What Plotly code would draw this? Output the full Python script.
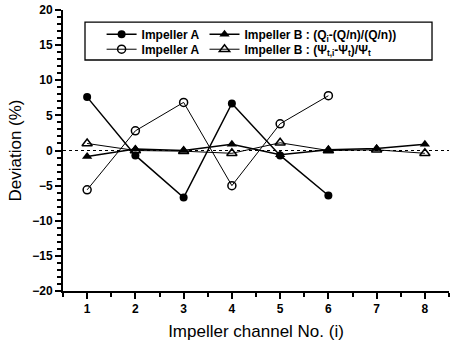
import plotly.graph_objects as go

channels_a = [1, 2, 3, 4, 5, 6]
channels_b = [1, 2, 3, 4, 5, 6, 7, 8]

flow_a = [7.6, -0.7, -6.7, 6.7, -0.7, -6.4]
flow_b = [-0.85, 0.2, 0.0, 0.9, -0.6, 0.1, 0.3, 0.9]
head_a = [-5.6, 2.8, 6.85, -5.0, 3.8, 7.8]
head_b = [1.0, 0.0, -0.1, -0.4, 1.1, 0.0, 0.1, -0.4]

x_ticks = [1, 2, 3, 4, 5, 6, 7, 8]
y_ticks = [-20, -15, -10, -5, 0, 5, 10, 15, 20]

name_a = "Impeller A"
name_b_flow = "Impeller B : (Q<sub>i</sub>-(Q/n)/(Q/n))"
name_b_head = "Impeller B : (Ψ<sub>t,i</sub>-Ψ<sub>t</sub>)/Ψ<sub>t</sub>"

FONT = "Arial, Liberation Sans, sans-serif"
BLACK = "black"

x_step = x_ticks[1] - x_ticks[0]
y_step = y_ticks[1] - y_ticks[0]
x_range = [x_ticks[0] - x_step / 2, x_ticks[-1] + x_step / 2]
y_range = [y_ticks[0], y_ticks[-1]]

fig = go.Figure()

fig.add_trace(go.Scatter(
    x=channels_a, y=flow_a, name=name_a, mode="lines+markers",
    line=dict(color=BLACK, width=1.5),
    marker=dict(symbol="circle", size=8, color=BLACK),
    legend="legend"))
fig.add_trace(go.Scatter(
    x=channels_b, y=flow_b, name=name_b_flow, mode="lines+markers",
    line=dict(color=BLACK, width=1.5),
    marker=dict(symbol="triangle-up", size=9, color=BLACK),
    legend="legend"))
fig.add_trace(go.Scatter(
    x=channels_a, y=head_a, name=name_a, mode="lines+markers",
    line=dict(color=BLACK, width=1),
    marker=dict(symbol="circle-open", size=8, color=BLACK, line=dict(width=1.5)),
    legend="legend2"))
fig.add_trace(go.Scatter(
    x=channels_b, y=head_b, name=name_b_head, mode="lines+markers",
    line=dict(color=BLACK, width=1),
    marker=dict(symbol="triangle-up-open", size=9, color=BLACK, line=dict(width=1.5)),
    legend="legend2"))

# dotted zero reference line
fig.add_shape(type="line", xref="paper", yref="y", x0=0, x1=1, y0=0, y1=0,
              line=dict(color=BLACK, width=1.2, dash="dot"), layer="below")

# legend frame
fig.add_shape(type="rect", xref="paper", yref="paper",
              x0=0.057, x1=0.956, y0=0.822, y1=0.957,
              line=dict(color=BLACK, width=1.3), fillcolor="rgba(0,0,0,0)")

legend_common = dict(orientation="h", xanchor="left", yanchor="top",
                     bgcolor="rgba(0,0,0,0)", borderwidth=0,
                     font=dict(family=FONT, size=12, color=BLACK, weight="bold"),
                     itemwidth=30, tracegroupgap=0)

axis_common = dict(showline=True, linecolor=BLACK, linewidth=1.8,
                   showgrid=False, zeroline=False, tickcolor=BLACK,
                   tickwidth=1.8, ticklen=6)

x_minor = dict(tickmode="linear", dtick=x_step / 2, tick0=x_range[0], ticklen=4,
               tickwidth=1.5, tickcolor=BLACK, showgrid=False)
y_minor = dict(tickmode="linear", dtick=1, tick0=0, ticklen=4,
               tickwidth=1.5, tickcolor=BLACK, showgrid=False)

fig.update_layout(
    width=450, height=345,
    margin=dict(l=63, r=1, t=10, b=54),
    paper_bgcolor="white", plot_bgcolor="white",
    font=dict(family=FONT, color=BLACK),
    showlegend=True,
    legend=dict(x=0.1, y=0.965, **legend_common),
    legend2=dict(x=0.1, y=0.912, **legend_common),
    xaxis=dict(
        range=x_range, tickmode="linear", tick0=x_ticks[0], dtick=x_step,
        ticks="outside", minor=dict(ticks="outside", **x_minor),
        tickfont=dict(family=FONT, size=12, color=BLACK, weight="bold"),
        title=dict(text="Impeller channel No. (i)", font=dict(family=FONT, size=17, color=BLACK), standoff=10),
        **axis_common,
    ),
    yaxis=dict(
        range=y_range, tickmode="linear", tick0=y_ticks[0], dtick=y_step,
        ticks="outside", minor=dict(ticks="outside", **y_minor),
        tickfont=dict(family=FONT, size=12, color=BLACK, weight="bold"),
        title=dict(text="Deviation (%)", font=dict(family=FONT, size=17, color=BLACK), standoff=6),
        **axis_common,
    ),
    xaxis2=dict(
        overlaying="x", side="top", range=x_range, tickmode="linear", tick0=x_ticks[0], dtick=x_step,
        showticklabels=False, ticks="inside", minor=dict(ticks="inside", **x_minor),
        **axis_common,
    ),
    yaxis2=dict(
        overlaying="y", side="right", range=y_range, tickmode="linear", tick0=y_ticks[0], dtick=y_step,
        showticklabels=False, ticks="inside", minor=dict(ticks="inside", **y_minor),
        **axis_common,
    ),
)

fig.write_html("out.html")
